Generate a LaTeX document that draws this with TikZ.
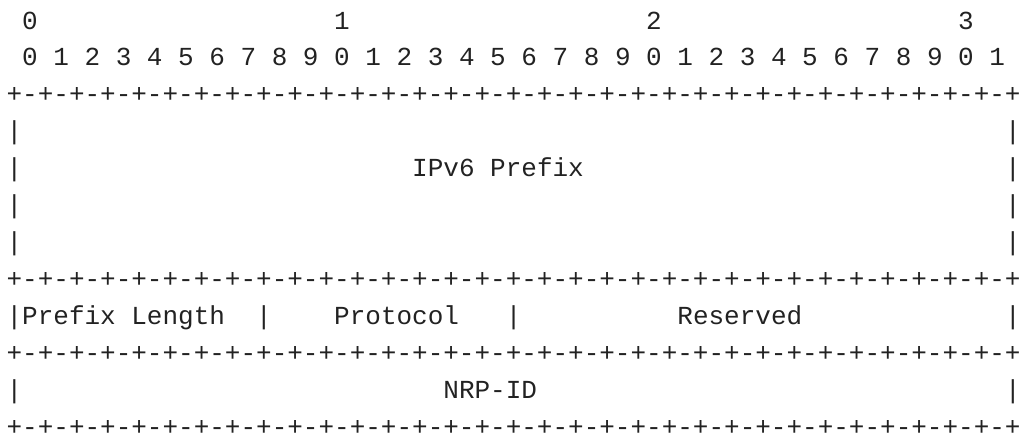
\documentclass[tikz,border=0pt]{standalone}
\usepackage{fontspec}
\setmonofont{Liberation Mono}
\definecolor{ink}{HTML}{222222}

% one character cell of the monospaced layout, in px-sized units
\newcommand\cellw{15.6}
\newcommand\lineh{36.95}
% \field{name}{column}{line}{text}
\newcommand\field[4]{%
  \node[cell] (#1) at ({6.6+#2*\cellw},{29+#3*\lineh}) {#4};}
\newcommand\rulerline{+-+-+-+-+-+-+-+-+-+-+-+-+-+-+-+-+-+-+-+-+-+-+-+-+-+-+-+-+-+-+-+-+}

\begin{document}
\begin{tikzpicture}[x=0.75pt,y=-0.75pt,
  cell/.style={anchor=base west,inner sep=0pt,outer sep=0pt,
    text height=14pt,text depth=0pt,
    font=\ttfamily\fontsize{19.5pt}{19.5pt}\selectfont,text=ink}]
\useasboundingbox (0,0) rectangle (1022,437);

% bit ruler
\field{tens0}{1}{0}{0}
\field{tens1}{21}{0}{1}
\field{tens2}{41}{0}{2}
\field{tens3}{61}{0}{3}
\field{units}{1}{1}{0 1 2 3 4 5 6 7 8 9 0 1 2 3 4 5 6 7 8 9 0 1 2 3 4 5 6 7 8 9 0 1}

% IPv6 prefix block
\field{top}{0}{2}{\rulerline}
\foreach \r in {3,4,5,6}{
  \field{pl\r}{0}{\r}{|}
  \field{pr\r}{64}{\r}{|}
}
\field{prefix}{26}{4}{IPv6 Prefix}
\field{sep1}{0}{7}{\rulerline}

% length / protocol / reserved word
\field{plen}{0}{8}{|Prefix Length}
\field{bar1}{16}{8}{|}
\field{proto}{21}{8}{Protocol}
\field{bar2}{32}{8}{|}
\field{resv}{43}{8}{Reserved}
\field{bar3}{64}{8}{|}
\field{sep2}{0}{9}{\rulerline}

% NRP-ID word
\field{nl}{0}{10}{|}
\field{nrp}{28}{10}{NRP-ID}
\field{nr}{64}{10}{|}
\field{bottom}{0}{11}{\rulerline}
\end{tikzpicture}
\end{document}
